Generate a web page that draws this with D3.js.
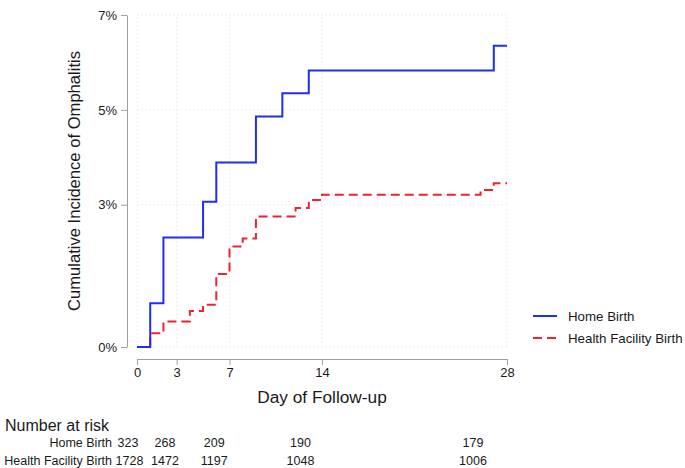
<!DOCTYPE html>
<html>
<head>
<meta charset="utf-8">
<script src="https://cdn.jsdelivr.net/npm/d3@7"></script>
<style>
  body { margin: 0; background: #fff; }
  svg text { font-family: "Liberation Sans", Arial, Helvetica, sans-serif; fill: #1a1a1a; }
  .axis path, .axis line { stroke: #a0a0a0; }
  .grid line { stroke: #efefef; stroke-dasharray: 2,2; }
</style>
</head>
<body>
<svg id="chart" width="685" height="468"></svg>
<script>
// step points (day, cumulative incidence in %)
const homeDays = [0, 1, 2, 5, 6, 9, 11, 13, 27, 28];
const homeInc = [0, 0.92, 2.31, 3.06, 3.89, 4.86, 5.35, 5.83, 6.35, 6.35];

const facilityDays = [0, 1, 2, 4, 5, 6, 7, 8, 9, 12, 13, 14, 26, 27, 28];
const facilityInc = [0, 0.29, 0.54, 0.76, 0.89, 1.54, 2.12, 2.29, 2.75, 2.93, 3.10, 3.21, 3.31, 3.45, 3.45];

const xTicks = [0, 3, 7, 14, 28];
const yTicks = [0, 3, 5, 7];

const riskLabels = ["Home Birth", "Health Facility Birth"];
const riskHome = [323, 268, 209, 190, 179];
const riskFacility = [1728, 1472, 1197, 1048, 1006];

const svg = d3.select("#chart");

let x = d3.scaleLinear().domain([0, 28]).range([137, 507]);
let y = d3.scaleLinear().domain([0, 7]).range([347, 15]);
// risk table columns sit on their own, slightly narrower scale
let xRisk = d3.scaleLinear().domain([0, 28]).range([128, 473]);

// faint grid
let grid = svg.append("g").attr("class", "grid");
grid.selectAll("line.v").data(xTicks).enter().append("line")
    .attr("x1", d => x(d)).attr("x2", d => x(d))
    .attr("y1", y(0)).attr("y2", y(7));
grid.selectAll("line.h").data(yTicks).enter().append("line")
    .attr("x1", x(0)).attr("x2", x(28))
    .attr("y1", d => y(d)).attr("y2", d => y(d));

// axes
let yAxis = svg.append("g").attr("class", "axis")
    .attr("transform", "translate(127,0)")
    .call(d3.axisLeft(y).tickValues(yTicks).tickFormat(d => d + "%").tickSize(6).tickSizeOuter(0));
let xAxis = svg.append("g").attr("class", "axis")
    .attr("transform", "translate(0,359)")
    .call(d3.axisBottom(x).tickValues(xTicks).tickSize(6).tickSizeOuter(0));
svg.selectAll(".axis text").style("font-size", "13px");
yAxis.selectAll("text").attr("x", -10);
xAxis.selectAll("text").attr("y", 9);

// axis titles
svg.append("text")
    .attr("transform", "translate(80," + (y(0) + y(7)) / 2 + ") rotate(-90)")
    .attr("text-anchor", "middle")
    .style("font-size", "16.6px")
    .text("Cumulative Incidence of Omphalitis");
svg.append("text")
    .attr("x", (x(0) + x(28)) / 2).attr("y", 403)
    .attr("text-anchor", "middle")
    .style("font-size", "17.3px")
    .text("Day of Follow-up");

// curves
let line = d3.line().curve(d3.curveStepAfter)
    .x(d => x(d[0])).y(d => y(d[1]));

svg.append("path")
    .datum(facilityDays.map((d, i) => [d, facilityInc[i]]))
    .attr("d", line)
    .attr("fill", "none")
    .attr("stroke", "#ee2233")
    .attr("stroke-width", 2)
    .attr("stroke-dasharray", "9,5");

svg.append("path")
    .datum(homeDays.map((d, i) => [d, homeInc[i]]))
    .attr("d", line)
    .attr("fill", "none")
    .attr("stroke", "#1f2ef5")
    .attr("stroke-width", 2);

// legend
let legend = svg.append("g").attr("transform", "translate(533,316)");
let legendItems = [
    { label: "Home Birth", color: "#1f2ef5", dash: null },
    { label: "Health Facility Birth", color: "#ee2233", dash: "9,5" }
];
legendItems.forEach(function (d, i) {
    let g = legend.append("g").attr("transform", "translate(0," + i * 22 + ")");
    g.append("line")
        .attr("x1", 0).attr("x2", 24)
        .attr("stroke", d.color).attr("stroke-width", 2)
        .attr("stroke-dasharray", d.dash);
    g.append("text").attr("x", 35).attr("y", 5)
        .style("font-size", "13.3px")
        .text(d.label);
});

// number at risk table
svg.append("text").attr("x", 5).attr("y", 431)
    .style("font-size", "16px")
    .text("Number at risk");

[riskHome, riskFacility].forEach(function (row, r) {
    let yy = 447 + r * 18;
    svg.append("text").attr("x", 112).attr("y", yy)
        .attr("text-anchor", "end")
        .style("font-size", "12.5px")
        .text(riskLabels[r]);
    svg.selectAll("text.risk" + r).data(row).enter().append("text")
        .attr("class", "risk" + r)
        .attr("x", (d, i) => xRisk(xTicks[i]) + (r === 1 && i === 0 ? 1.5 : 0))
        .attr("y", yy)
        .attr("text-anchor", "middle")
        .style("font-size", "12.5px")
        .text(d => d);
});
</script>
</body>
</html>
